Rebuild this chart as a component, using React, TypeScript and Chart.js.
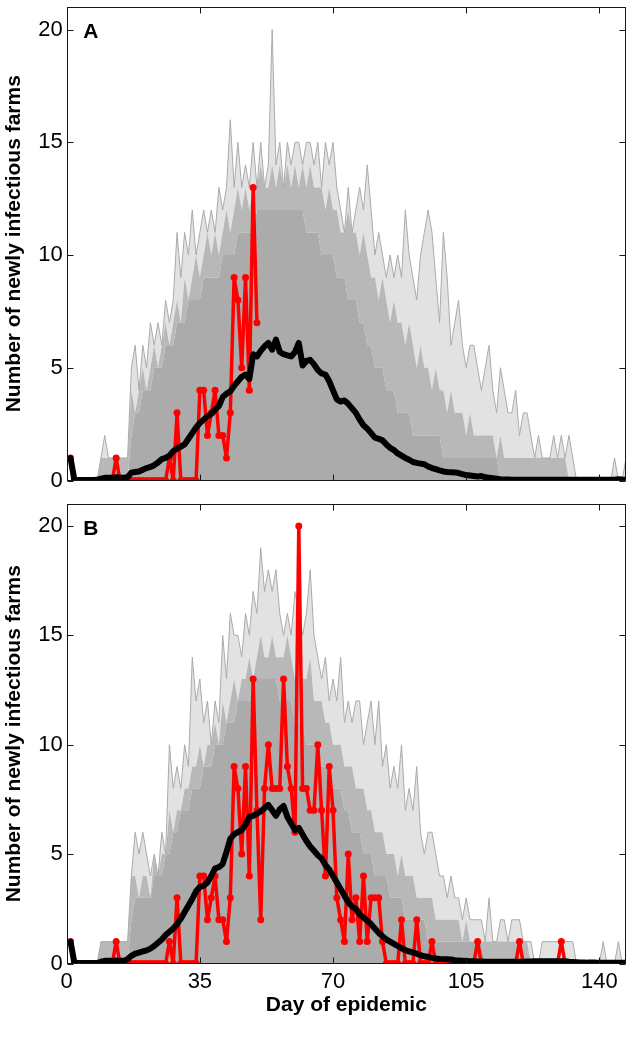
import React, { useEffect, useRef } from 'react';
import { Chart, registerables } from 'chart.js';

Chart.register(...registerables);

const FONT = '"Liberation Sans", Arial, Helvetica, sans-serif';
const GRAY = '#ababab';
const GRAY_DENSE = 'rgba(171,171,171,0.85)';
const GRAY_SPARSE = 'rgba(171,171,171,0.35)';

const xTicks = [0, 35, 70, 105, 140];
const yTicks = [0, 5, 10, 15, 20];
const X_MAX = 147;
const Y_MAX = 21;
const FIRST_DAY = 1;

// Observed daily newly infectious farms (red), days 1..147
const observed = [
  1, 0, 0, 0, 0, 0, 0, 0, 0, 0,
  0, 0, 1, 0, 0, 0, 0, 0, 0, 0,
  0, 0, 0, 0, 0, 0, 1, 0, 3, 0,
  0, 0, 0, 0, 4, 4, 2, 3, 4, 2,
  2, 1, 3, 9, 8, 5, 9, 4, 13, 7,
  2, 8, 10, 8, 8, 8, 13, 9, 8, 6,
  20, 8, 8, 7, 7, 10, 7, 4, 9, 7,
  3, 2, 1, 5, 2, 3, 1, 4, 1, 3,
  3, 3, 1, 0, 0, 0, 0, 2, 0, 0,
  0, 2, 0, 0, 0, 1, 0, 0, 0, 0,
  0, 0, 0, 0, 0, 0, 0, 1, 0, 0,
  0, 0, 0, 0, 0, 0, 0, 0, 1, 0,
  0, 0, 0, 0, 0, 0, 0, 0, 0, 1,
  0, 0, 0, 0, 0, 0, 0, 0, 0, 0,
  0, 0, 0, 0, 0, 0, 0,
];
// Panel A only shows the observations available up to day 50
const observedDaysA = 50;

// Mean of simulations (black), panel A, days 1..147
const meanA = [
  1.0, 0.05, 0.02, 0.02, 0.02, 0.02, 0.02, 0.03, 0.08, 0.12,
  0.12, 0.12, 0.15, 0.12, 0.12, 0.15, 0.35, 0.38, 0.4, 0.48,
  0.55, 0.6, 0.68, 0.8, 0.95, 1.0, 1.1, 1.3, 1.42, 1.5,
  1.6, 1.85, 2.1, 2.35, 2.55, 2.7, 2.85, 2.95, 3.15, 3.3,
  3.7, 3.85, 3.95, 4.2, 4.4, 4.6, 4.7, 4.5, 5.6, 5.5,
  5.75, 5.95, 6.1, 5.8, 6.25, 5.7, 5.6, 5.55, 5.5, 5.7,
  6.1, 5.1, 5.3, 5.35, 5.15, 4.9, 4.75, 4.7, 4.4, 4.0,
  3.6, 3.5, 3.55, 3.4, 3.2, 3.0, 2.7, 2.45, 2.3, 2.1,
  1.9, 1.85, 1.78, 1.6, 1.45, 1.35, 1.2, 1.1, 1.0, 0.92,
  0.82, 0.78, 0.75, 0.72, 0.62, 0.55, 0.5, 0.45, 0.4, 0.38,
  0.37, 0.36, 0.33, 0.28, 0.24, 0.22, 0.2, 0.18, 0.2, 0.14,
  0.12, 0.1, 0.08, 0.06, 0.05, 0.04, 0.03, 0.03, 0.03, 0.03,
  0.03, 0.03, 0.03, 0.03, 0.03, 0.03, 0.03, 0.03, 0.03, 0.03,
  0.03, 0.03, 0.03, 0.03, 0.03, 0.03, 0.03, 0.03, 0.03, 0.03,
  0.03, 0.03, 0.03, 0.03, 0.06, 0.04, 0.03,
];

// Mean of simulations (black), panel B, days 1..147
const meanB = [
  1.0, 0.05, 0.02, 0.02, 0.02, 0.02, 0.02, 0.02, 0.08, 0.12,
  0.12, 0.12, 0.14, 0.12, 0.12, 0.2, 0.35, 0.45, 0.5, 0.55,
  0.6, 0.68, 0.8, 0.95, 1.1, 1.3, 1.45, 1.6, 1.8, 2.05,
  2.35, 2.65, 2.95, 3.3, 3.5, 3.55, 3.7, 4.0, 4.35, 4.4,
  4.55, 5.1, 5.7, 5.9, 6.0, 6.1, 6.35, 6.7, 6.75, 6.85,
  6.95, 7.1, 7.25, 7.0, 6.75, 7.05, 7.2, 6.7, 6.4, 6.1,
  6.2, 5.9, 5.6, 5.35, 5.15, 4.95, 4.8, 4.5, 4.3, 4.0,
  3.7, 3.4, 3.1, 2.8, 2.6, 2.5, 2.25, 2.1, 1.95, 1.8,
  1.6, 1.4, 1.25, 1.1, 1.0, 0.9, 0.8, 0.7, 0.62, 0.55,
  0.5, 0.45, 0.38, 0.33, 0.3, 0.26, 0.23, 0.21, 0.2, 0.19,
  0.18, 0.15, 0.14, 0.13, 0.12, 0.1, 0.1, 0.09, 0.09, 0.08,
  0.08, 0.08, 0.08, 0.08, 0.08, 0.08, 0.08, 0.08, 0.08, 0.08,
  0.09, 0.09, 0.1, 0.1, 0.1, 0.1, 0.1, 0.1, 0.1, 0.1,
  0.1, 0.08, 0.07, 0.06, 0.05, 0.05, 0.04, 0.04, 0.04, 0.03,
  0.03, 0.03, 0.03, 0.03, 0.03, 0.03, 0.03,
];

// Simulated trajectories (grey), panel A: solid core, dense band, outer envelope
const simCoreA = [
  1, 0, 0, 0, 0, 0, 0, 0, 0, 0,
  0, 0, 0, 0, 0, 0, 2, 3, 3, 4,
  4, 4, 5, 5, 5, 6, 6, 6, 7, 7,
  7, 8, 8, 8, 8, 9, 9, 9, 9, 9,
  10, 10, 10, 10, 11, 11, 11, 11, 11, 12,
  12, 12, 12, 12, 12, 12, 12, 12, 12, 12,
  12, 12, 11, 11, 11, 11, 10, 10, 10, 10,
  9, 9, 9, 8, 8, 8, 7, 7, 6, 6,
  5, 5, 5, 4, 4, 4, 3, 3, 3, 3,
  2, 2, 2, 2, 2, 2, 2, 2, 1, 1,
  1, 1, 1, 1, 1, 1, 1, 1, 1, 1,
  1, 1, 1, 0, 0, 0, 0, 0, 0, 0,
  0, 0, 0, 0, 0, 0, 0, 0, 0, 0,
  0, 0, 0, 0, 0, 0, 0, 0, 0, 0,
  0, 0, 0, 0, 0, 0, 0,
];
const simDenseA = [
  1, 0, 0, 0, 0, 0, 0, 0, 1, 1,
  1, 1, 1, 1, 1, 1, 4, 3, 4, 5,
  4, 5, 6, 5, 6, 7, 6, 7, 8, 7,
  9, 8, 9, 10, 9, 10, 11, 10, 11, 10,
  11, 12, 11, 12, 13, 12, 13, 12, 13, 13,
  14, 13, 13, 14, 13, 14, 13, 14, 13, 14,
  13, 14, 13, 14, 13, 13, 13, 12, 13, 12,
  12, 11, 11, 12, 11, 11, 10, 11, 10, 9,
  9, 8, 9, 8, 7, 8, 7, 7, 6, 7,
  6, 5, 6, 5, 5, 4, 5, 4, 4, 3,
  4, 3, 3, 3, 2, 3, 2, 2, 2, 2,
  2, 2, 1, 2, 1, 1, 1, 1, 1, 1,
  1, 1, 1, 1, 1, 1, 1, 1, 1, 1,
  1, 0, 0, 0, 0, 0, 0, 0, 0, 0,
  0, 0, 0, 0, 0, 0, 0,
];
const simMaxA = [
  1, 0, 0, 0, 0, 0, 0, 0, 1, 2,
  1, 1, 1, 1, 1, 1, 5, 6, 4, 6,
  5, 7, 6, 7, 6, 8, 7, 8, 11, 9,
  11, 10, 12, 10, 11, 12, 11, 12, 11, 13,
  12, 13, 16, 13, 15, 13, 14, 13, 15, 13,
  15, 13, 14, 20, 14, 15, 13, 15, 14, 15,
  15, 14, 15, 15, 14, 15, 13, 15, 14, 15,
  13, 12, 11, 13, 11, 12, 13, 12, 14, 12,
  10, 11, 10, 9, 10, 9, 10, 9, 12, 10,
  9, 8, 10, 11, 12, 11, 9, 7, 11, 9,
  6, 7, 8, 6, 5, 6, 6, 5, 4, 5,
  6, 4, 3, 5, 4, 3, 3, 4, 2, 3,
  3, 2, 1, 2, 1, 1, 1, 2, 1, 2,
  1, 2, 1, 0, 0, 0, 0, 0, 0, 0,
  0, 0, 0, 1, 0, 0, 1,
];

// Simulated trajectories (grey), panel B: solid core, dense band, outer envelope
const simCoreB = [
  1, 0, 0, 0, 0, 0, 0, 0, 0, 0,
  0, 0, 0, 0, 0, 0, 2, 3, 3, 3,
  3, 3, 4, 4, 4, 5, 5, 6, 6, 7,
  7, 7, 8, 8, 8, 9, 9, 9, 10, 10,
  10, 11, 11, 11, 12, 12, 12, 12, 13, 13,
  13, 13, 13, 13, 13, 12, 12, 12, 12, 11,
  11, 11, 10, 10, 10, 10, 9, 9, 9, 8,
  8, 8, 7, 7, 6, 6, 6, 5, 5, 5,
  4, 4, 4, 4, 3, 3, 3, 3, 2, 2,
  2, 2, 2, 2, 1, 1, 1, 1, 1, 1,
  1, 1, 1, 1, 1, 1, 1, 1, 1, 0,
  0, 0, 0, 0, 0, 0, 0, 0, 0, 0,
  0, 0, 0, 0, 0, 0, 0, 0, 0, 0,
  0, 0, 0, 0, 0, 0, 0, 0, 0, 0,
  0, 0, 0, 0, 0, 0, 0,
];
const simDenseB = [
  1, 0, 0, 0, 0, 0, 0, 0, 1, 1,
  1, 1, 1, 1, 1, 1, 4, 4, 3, 4,
  4, 3, 5, 4, 5, 5, 7, 6, 7, 7,
  8, 8, 9, 9, 10, 9, 10, 10, 11, 10,
  12, 11, 12, 13, 12, 13, 13, 14, 13, 14,
  15, 14, 14, 15, 14, 14, 14, 15, 14, 13,
  14, 13, 13, 14, 12, 12, 12, 11, 11, 10,
  10, 10, 9, 9, 9, 8, 8, 8, 7, 7,
  6, 6, 6, 5, 5, 5, 4, 5, 4, 4,
  4, 3, 3, 3, 3, 3, 2, 2, 2, 2,
  2, 2, 2, 1, 2, 1, 1, 1, 1, 1,
  1, 1, 1, 1, 1, 1, 1, 1, 1, 1,
  1, 0, 0, 0, 0, 0, 0, 0, 0, 0,
  0, 0, 0, 0, 0, 0, 0, 0, 0, 0,
  0, 0, 0, 0, 0, 0, 0,
];
const simMaxB = [
  1, 0, 0, 0, 0, 0, 0, 0, 1, 1,
  1, 1, 1, 1, 1, 1, 4, 6, 5, 6,
  5, 4, 5, 4, 6, 5, 10, 8, 9, 8,
  10, 9, 14, 12, 13, 11, 12, 10, 12, 11,
  15, 13, 16, 15, 15, 14, 16, 15, 17, 16,
  19, 17, 18, 17, 18, 16, 15, 16, 15, 17,
  16, 15, 16, 18, 15, 14, 13, 14, 12, 13,
  12, 14, 11, 12, 11, 12, 12, 10, 11, 12,
  10, 12, 9, 10, 8, 9, 8, 10, 7, 8,
  7, 9, 6, 5, 6, 6, 5, 4, 4, 3,
  4, 3, 3, 2, 3, 2, 2, 2, 2, 1,
  3, 1, 1, 2, 2, 1, 2, 2, 2, 1,
  1, 1, 0, 0, 1, 1, 1, 1, 1, 1,
  1, 1, 1, 0, 0, 0, 0, 0, 0, 0,
  1, 0, 0, 0, 1, 0, 0,
];

const toXY = (vals: number[]) => vals.map((v, i) => ({ x: i + FIRST_DAY, y: v }));

const framePlugin = {
  id: 'frame',
  afterDraw(chart: any, _args: any, opts: any) {
    const { ctx, chartArea: a } = chart;
    const xs = chart.scales.x;
    const ys = chart.scales.y;
    ctx.save();
    ctx.strokeStyle = '#161616';
    ctx.lineWidth = 1;
    const l = Math.round(a.left) + 0.5;
    const r = Math.round(a.right) - 0.5;
    const t = Math.round(a.top) + 0.5;
    const b = Math.round(a.bottom) - 0.5;
    ctx.strokeRect(l, t, r - l, b - t);
    const L = 6;
    ctx.beginPath();
    for (const v of xTicks) {
      const px = Math.round(xs.getPixelForValue(v)) + 0.5;
      ctx.moveTo(px, b);
      ctx.lineTo(px, b - L);
      ctx.moveTo(px, t);
      ctx.lineTo(px, t + L);
    }
    for (const v of yTicks) {
      const py = Math.round(ys.getPixelForValue(v)) + 0.5;
      ctx.moveTo(l, py);
      ctx.lineTo(l + L, py);
      ctx.moveTo(r, py);
      ctx.lineTo(r - L, py);
    }
    ctx.stroke();
    ctx.fillStyle = '#000';
    ctx.font = `bold 21px ${FONT}`;
    ctx.textAlign = 'left';
    ctx.textBaseline = 'alphabetic';
    ctx.fillText(opts.letter, a.left + 16.5, a.top + 31);
    ctx.restore();
  },
};

type PanelSpec = {
  letter: string;
  obs: number[];
  mean: number[];
  core: number[];
  dense: number[];
  max: number[];
  showX: boolean;
  padTop: number;
  xHeight: number;
};

function buildChart(canvas: HTMLCanvasElement, p: PanelSpec) {
  const tickFont = { family: FONT, size: 22 };
  const titleFont = { family: FONT, size: 21, weight: 'bold' as const };
  return new Chart(canvas, {
    type: 'line',
    data: {
      datasets: [
        {
          label: 'Mean of simulations',
          data: toXY(p.mean),
          borderColor: '#000000',
          backgroundColor: '#000000',
          borderWidth: 6,
          pointRadius: 0,
          fill: false,
          borderJoinStyle: 'round',
          borderCapStyle: 'round',
        },
        {
          label: 'Observed',
          data: toXY(p.obs),
          borderColor: '#ff0000',
          backgroundColor: '#ff0000',
          borderWidth: 3.5,
          pointRadius: 3.5,
          pointBorderWidth: 0,
          pointBackgroundColor: '#ff0000',
          fill: false,
          borderJoinStyle: 'round',
        },
        {
          label: 'Simulations (envelope)',
          data: toXY(p.max),
          borderColor: GRAY,
          borderWidth: 1,
          pointRadius: 0,
          fill: 3,
          backgroundColor: GRAY_SPARSE,
        },
        {
          label: 'Simulations (dense)',
          data: toXY(p.dense),
          borderColor: 'rgba(0,0,0,0)',
          borderWidth: 1,
          pointRadius: 0,
          fill: 4,
          backgroundColor: GRAY_DENSE,
        },
        {
          label: 'Simulations (core)',
          data: toXY(p.core),
          borderColor: 'rgba(0,0,0,0)',
          borderWidth: 1,
          pointRadius: 0,
          fill: 'origin',
          backgroundColor: GRAY,
        },
      ],
    } as any,
    options: {
      animation: false,
      responsive: false,
      maintainAspectRatio: false,
      events: [],
      layout: { padding: { top: p.padTop, right: 10, left: 0, bottom: 0 } },
      plugins: {
        legend: { display: false },
        tooltip: { enabled: false },
        frame: { letter: p.letter },
      } as any,
      scales: {
        x: {
          type: 'linear',
          min: 0,
          max: X_MAX,
          grid: { display: false, drawTicks: false },
          border: { display: false },
          afterBuildTicks: (s: any) => {
            s.ticks = xTicks.map((v) => ({ value: v }));
          },
          ticks: {
            display: p.showX,
            font: tickFont,
            color: '#000',
            padding: 5,
            maxRotation: 0,
            autoSkip: false,
          },
          title: {
            display: p.showX,
            text: 'Day of epidemic',
            font: titleFont,
            color: '#000',
            padding: { top: 0, bottom: 19 },
          },
          afterFit: (s: any) => {
            s.height = p.xHeight;
            s.paddingLeft = 0;
            s.paddingRight = 0;
          },
        },
        y: {
          type: 'linear',
          min: 0,
          max: Y_MAX,
          grid: { display: false, drawTicks: false },
          border: { display: false },
          afterBuildTicks: (s: any) => {
            s.ticks = yTicks.map((v) => ({ value: v }));
          },
          ticks: { font: tickFont, color: '#000', padding: 4 },
          title: {
            display: true,
            text: 'Number of newly infectious farms',
            font: titleFont,
            color: '#000',
            padding: { top: 2, bottom: 0 },
          },
          afterFit: (s: any) => {
            s.width = 66.7;
            s.paddingTop = 0;
            s.paddingBottom = 0;
          },
        },
      },
    } as any,
    plugins: [framePlugin],
  });
}

export default function App() {
  const refA = useRef<HTMLCanvasElement>(null);
  const refB = useRef<HTMLCanvasElement>(null);

  useEffect(() => {
    const chartA = buildChart(refA.current as HTMLCanvasElement, {
      letter: 'A',
      obs: observed.slice(0, observedDaysA),
      mean: meanA,
      core: simCoreA,
      dense: simDenseA,
      max: simMaxA,
      showX: false,
      padTop: 7,
      xHeight: 19.5,
    });
    const chartB = buildChart(refB.current as HTMLCanvasElement, {
      letter: 'B',
      obs: observed,
      mean: meanB,
      core: simCoreB,
      dense: simDenseB,
      max: simMaxB,
      showX: true,
      padTop: 3,
      xHeight: 73.5,
    });
    return () => {
      chartA.destroy();
      chartB.destroy();
    };
  }, []);

  return (
    <div
      style={{
        position: 'absolute',
        left: 0,
        top: 0,
        width: 636,
        height: 1037,
        background: '#ffffff',
      }}
    >
      <canvas
        ref={refA}
        width={636}
        height={500}
        style={{ position: 'absolute', left: 0, top: 0, width: 636, height: 500, display: 'block' }}
      />
      <canvas
        ref={refB}
        width={636}
        height={537}
        style={{ position: 'absolute', left: 0, top: 500, width: 636, height: 537, display: 'block' }}
      />
    </div>
  );
}
